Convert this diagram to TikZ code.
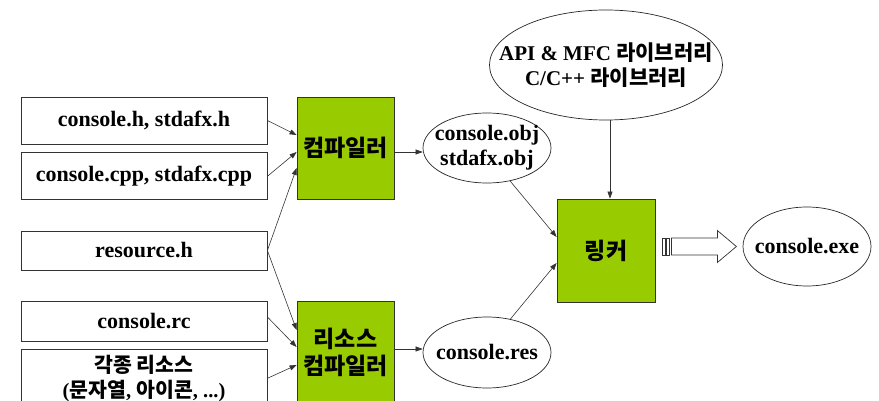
\documentclass[tikz,border=0pt]{standalone}
\usepackage{fontspec}
\setmainfont{Liberation Serif}
\newfontfamily\krfont{Noto Sans CJK KR}
\newcommand{\ko}[1]{{\krfont #1}}
\usetikzlibrary{arrows.meta, positioning, shapes.geometric, calc}
\definecolor{compgreen}{HTML}{99CC00}

\begin{document}
\begin{tikzpicture}[x=1pt, y=-1pt,
    font=\fontsize{22}{25}\selectfont\bfseries,
    filebox/.style={draw=black!80, line width=0.8pt, inner sep=0pt, minimum width=246pt, align=center},
    compbox/.style={draw=black!80, line width=0.8pt, fill=compgreen, inner sep=0pt, minimum width=97pt, minimum height=102pt, align=center, font=\fontsize{23}{27}\selectfont\bfseries},
    fileell/.style={draw=black!85, ellipse, line width=0.7pt, inner sep=0pt},
    signal/.style={-{Triangle[length=7pt, width=5pt]}, line width=0.6pt, draw=black!80}
]

% Page frame
\clip (0,0) rectangle (879,401);

% Source files on the left
\node[filebox, minimum height=47pt] (hfile) at (144,120.5) {console.h, stdafx.h};
\node[filebox, minimum height=47pt, below=8pt of hfile] (cppfile) {console.cpp, stdafx.cpp};
\node[filebox, minimum height=39pt] (resh) at (144,250.5) {resource.h};
\node[filebox, minimum height=40pt] (rcfile) at (144,321) {console.rc};
\node[filebox, minimum height=57pt, below=8pt of rcfile,
      font=\fontsize{20.5}{25}\selectfont\bfseries] (resfiles) {\ko{각종 리소스}\\(\ko{문자열}, \ko{아이콘}, ...)};

% Compilers
\node[compbox] (compiler) at (345.5,148) {\ko{컴파일러}};
\node[compbox] (rescomp) at (345.5,352) {\ko{리소스}\\\ko{컴파일러}};

% Intermediate files
\node[fileell, minimum width=128pt, minimum height=70pt,
      label={[align=center]center:console.obj\\stdafx.obj}] (objfile) at (487,148) {};
\node[fileell, minimum width=128pt, minimum height=71pt,
      label={center:console.res}] (resfile) at (487,352.5) {};

% Libraries and linker
\node[fileell, minimum width=233pt, minimum height=110pt,
      label={[align=center, font=\fontsize{21}{25}\selectfont\bfseries]center:API \& MFC \ko{라이브러리}\\C/C++ \ko{라이브러리}}] (api) at (606,65) {};
\node[compbox, minimum width=98pt, minimum height=103pt] (linker) at (606,250.5) {\ko{링커}};

% Result
\node[fileell, minimum width=128pt, minimum height=79pt,
      label={center:console.exe}] (exefile) at (807,246.5) {};

% Inputs to the compilers
\draw[signal] (hfile.east) -- ([yshift=13pt]compiler.west);
\draw[signal] (cppfile.east) -- ([yshift=-4pt]compiler.west);
\draw[signal] (resh.east) -- ([yshift=-20pt]compiler.west);
\draw[signal] (resh.east) -- ([yshift=22pt]rescomp.west);
\draw[signal] ([yshift=4pt]rcfile.east) -- ([yshift=5pt]rescomp.west);
\draw[signal] (resfiles.east) -- ([yshift=-13pt]rescomp.west);

% Compiler outputs
\draw[signal] ([yshift=-4pt]compiler.east) -- ([yshift=-4pt]objfile.west);
\draw[signal] ([yshift=3pt]rescomp.east) -- ([yshift=3.5pt]resfile.west);

% Into the linker
\draw[signal] (objfile.-55) -- ([yshift=13.5pt]linker.west);
\draw[signal] (resfile.55) -- ([yshift=-12.5pt]linker.west);
\draw[signal] ([xshift=4pt]api.south) -- ([xshift=4pt]linker.north);

% Hollow arrow to the executable
\coordinate (bigarrow) at ($(linker.east |- exefile.west)+(7,0)$);
\begin{scope}[shift={(bigarrow)}, draw=black!80, line width=0.7pt]
    \draw (0,-8.5) rectangle (2.5,8.5);
    \draw (4,-8.5) rectangle (7,8.5);
    \draw (9,-8.5) -- (55,-8.5) -- (55,-16) -- (74,0) -- (55,16) -- (55,8.5) -- (9,8.5) -- cycle;
\end{scope}

\end{tikzpicture}
\end{document}
